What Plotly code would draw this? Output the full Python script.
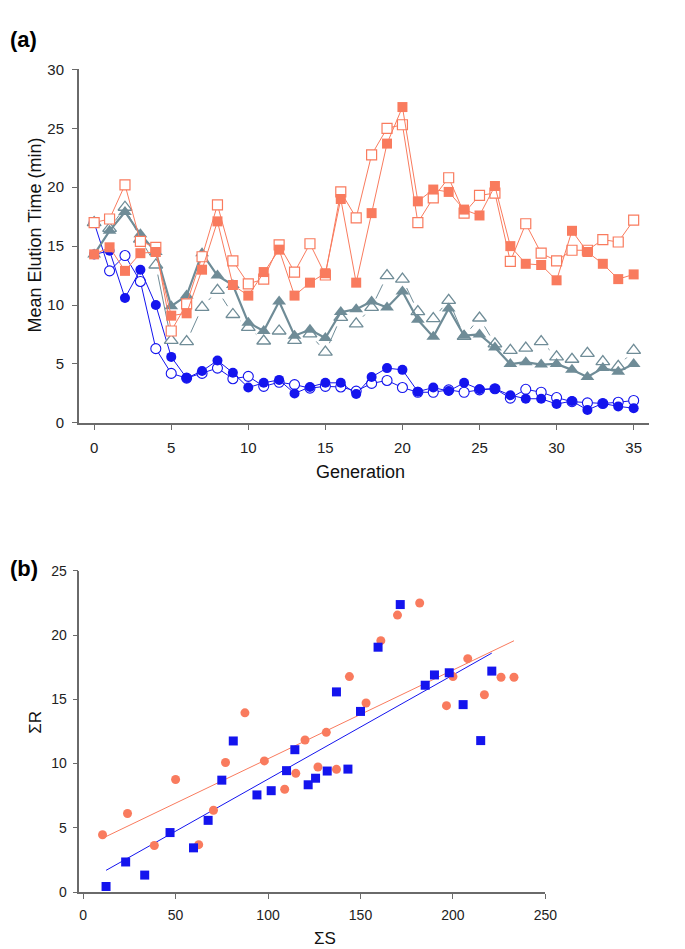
import math
import numpy as np
import plotly.graph_objects as go

W, H = 685, 949

# ---------------- Panel (a) data ----------------
generation = list(range(36))

filled_squares = [14.3, 14.9, 12.9, 14.4, 14.5, 9.1, 9.3, 13.0, 17.1, 11.7, 10.8, 12.8, 14.7, 10.8,
                  11.9, 12.7, 19.0, 11.9, 17.8, 23.7, 26.8, 18.8, 19.8, 19.6, 18.1, 17.6, 20.1, 15.0,
                  13.5, 13.4, 12.1, 16.3, 14.5, 13.5, 12.2, 12.6]
open_squares = [17.0, 17.3, 20.2, 15.4, 14.9, 7.8, 10.1, 14.1, 18.5, 13.75, 11.8, 12.2, 15.1, 12.8,
                15.2, 12.55, 19.6, 17.4, 22.75, 25.0, 25.3, 17.0, 19.1, 20.8, 17.8, 19.3, 19.5, 13.7,
                16.9, 14.4, 13.75, 14.65, 14.65, 15.55, 15.35, 17.2]
filled_triangles = [14.3, 16.3, 17.9, 16.0, 14.5, 9.9, 10.8, 14.4, 12.5, 11.7, 8.5, 7.8, 10.3, 7.4,
                    7.9, 7.2, 9.4, 9.65, 10.3, 9.8, 11.15, 8.75, 7.3, 9.7, 7.4, 7.5, 6.4, 5.0,
                    5.15, 4.95, 5.0, 4.5, 3.9, 4.65, 4.35, 5.0]
open_triangles = [17.0, 16.5, 18.3, 15.6, 13.4, 7.0, 6.9, 9.8, 11.25, 9.2, 8.1, 6.95, 7.8, 7.0,
                  7.55, 6.0, 8.95, 8.4, 9.8, 12.5, 12.2, 9.45, 8.85, 10.4, 7.35, 8.9, 6.7, 6.15,
                  6.35, 6.9, 5.6, 5.4, 5.9, 5.2, 4.8, 6.15]
filled_circles = [14.3, 14.6, 10.6, 13.0, 10.0, 5.6, 3.8, 4.4, 5.3, 4.25, 3.0, 3.4, 3.65, 2.5,
                  3.05, 3.4, 3.4, 2.45, 3.9, 4.65, 4.5, 2.65, 3.0, 2.7, 3.4, 2.85, 2.9, 2.35,
                  2.05, 2.05, 1.6, 1.85, 1.1, 1.65, 1.4, 1.25]
open_circles = [17.0, 12.9, 14.2, 12.0, 6.3, 4.2, 3.8, 4.2, 4.65, 3.75, 3.95, 3.1, 3.45, 3.25,
                2.95, 3.1, 3.05, 2.7, 3.35, 3.6, 3.0, 2.6, 2.6, 2.8, 2.6, 2.8, 2.9, 2.1,
                2.85, 2.6, 2.15, 1.8, 1.7, 1.65, 1.75, 1.9]

a_xticks = [0, 5, 10, 15, 20, 25, 30, 35]
a_yticks = [0, 5, 10, 15, 20, 25, 30]

# ---------------- Panel (b) data ----------------
orange_S = [10.5, 24, 38.5, 50, 62.5, 70.5, 77, 87.5, 98, 109, 115, 120, 127, 131.5, 137, 144,
            153, 161, 170, 182, 196.5, 200, 208, 217, 226, 233]
orange_R = [4.46, 6.11, 3.62, 8.76, 3.69, 6.37, 10.08, 13.95, 10.21, 8.0, 9.24, 11.84, 9.73, 12.43,
            9.55, 16.77, 14.72, 19.57, 21.56, 22.5, 14.51, 16.77, 18.17, 15.36, 16.72, 16.72]
blue_S = [12.4, 23, 33.3, 47, 59.7, 67.6, 75, 81.2, 94, 101.7, 110, 114.5, 121.7, 125.7, 132, 137,
          143.2, 150, 159.5, 171.5, 185, 190, 198, 205.5, 215, 221]
blue_R = [0.43, 2.34, 1.32, 4.63, 3.44, 5.58, 8.71, 11.76, 7.56, 7.89, 9.45, 11.08, 8.35, 8.86,
          9.42, 15.58, 9.57, 14.06, 19.06, 22.38, 16.1, 16.9, 17.07, 14.59, 11.79, 17.2]

b_xticks = [0, 50, 100, 150, 200, 250]
b_yticks = [0, 5, 10, 15, 20, 25]

# ---------------- styling ----------------
ORANGE = "#F97B5E"
GRAY = "#6F8C97"
BLUE = "#1414EE"
AXIS = "#6a6a6a"
FONT = "Liberation Sans, Arial, sans-serif"

a_xdom = [72 / W, 652.5 / W]
a_ydom = [1 - 413.3 / H, 1 - 53.3 / H]
a_xrange = [-1, 36]
a_yrange = [0, 30]

b_xdom = [72.7 / W, 547 / W]
b_ydom = [1 - 891 / H, 1 - 564 / H]
b_xrange = [-2, 250]
b_yrange = [0, 25]

fig = go.Figure()

# pixel scale for the gapped (type "b") line of the open triangles
sx = (a_xdom[1] - a_xdom[0]) * W / (a_xrange[1] - a_xrange[0])
sy = (a_ydom[1] - a_ydom[0]) * H / (a_yrange[1] - a_yrange[0])


def gapped(xs, ys, gap):
    X, Y = [], []
    for i in range(len(xs) - 1):
        dx, dy = xs[i + 1] - xs[i], ys[i + 1] - ys[i]
        L = math.hypot(dx * sx, dy * sy)
        if L <= 2 * gap:
            continue
        f = gap / L
        X += [xs[i] + dx * f, xs[i + 1] - dx * f, None]
        Y += [ys[i] + dy * f, ys[i + 1] - dy * f, None]
    return X, Y


# blue circles
fig.add_trace(go.Scatter(x=generation, y=open_circles, mode="lines+markers",
                         line=dict(color=BLUE, width=1),
                         marker=dict(symbol="circle", size=10, color="white",
                                     line=dict(color=BLUE, width=1.1)),
                         xaxis="x", yaxis="y", cliponaxis=False))
fig.add_trace(go.Scatter(x=generation, y=filled_circles, mode="lines+markers",
                         line=dict(color=BLUE, width=1),
                         marker=dict(symbol="circle", size=10, color=BLUE),
                         xaxis="x", yaxis="y", cliponaxis=False))

# gray triangles
gx, gy = gapped(generation, open_triangles, 10)
fig.add_trace(go.Scatter(x=gx, y=gy, mode="lines", line=dict(color=GRAY, width=1),
                         xaxis="x", yaxis="y", cliponaxis=False))
fig.add_trace(go.Scatter(x=generation, y=open_triangles, mode="markers",
                         marker=dict(symbol="triangle-up", size=12, color="white",
                                     line=dict(color=GRAY, width=1.3)),
                         xaxis="x", yaxis="y", cliponaxis=False))
fig.add_trace(go.Scatter(x=generation, y=filled_triangles, mode="lines+markers",
                         line=dict(color=GRAY, width=2.2),
                         marker=dict(symbol="triangle-up", size=12, color=GRAY),
                         xaxis="x", yaxis="y", cliponaxis=False))

# orange squares
fig.add_trace(go.Scatter(x=generation, y=open_squares, mode="lines+markers",
                         line=dict(color=ORANGE, width=1),
                         marker=dict(symbol="square", size=10, color="white",
                                     line=dict(color=ORANGE, width=1.2)),
                         xaxis="x", yaxis="y", cliponaxis=False))
fig.add_trace(go.Scatter(x=generation, y=filled_squares, mode="lines+markers",
                         line=dict(color=ORANGE, width=1),
                         marker=dict(symbol="square", size=10, color=ORANGE),
                         xaxis="x", yaxis="y", cliponaxis=False))

# ---------------- Panel (b) ----------------
for S, R, col in [(orange_S, orange_R, ORANGE), (blue_S, blue_R, BLUE)]:
    k, c = np.polyfit(S, R, 1)
    xs = np.array([min(S), max(S)])
    fig.add_trace(go.Scatter(x=xs, y=k * xs + c, mode="lines", line=dict(color=col, width=1),
                             xaxis="x2", yaxis="y2"))
for S, R, col, sym in [(orange_S, orange_R, ORANGE, "circle"), (blue_S, blue_R, BLUE, "square")]:
    fig.add_trace(go.Scatter(x=S, y=R, mode="markers",
                             marker=dict(symbol=sym, size=9, color=col),
                             xaxis="x2", yaxis="y2", cliponaxis=False))


def ax(size, standoff):
    return dict(showline=True, linecolor=AXIS, linewidth=1.5, ticks="outside", ticklen=5,
                tickcolor=AXIS, tickwidth=1.2, showgrid=False, zeroline=False,
                ticklabelstandoff=standoff,
                tickfont=dict(family=FONT, size=size, color="#222"))


fig.update_layout(
    width=W, height=H, showlegend=False,
    paper_bgcolor="white", plot_bgcolor="white",
    margin=dict(l=0, r=0, t=0, b=0),
    xaxis=dict(domain=a_xdom, range=a_xrange, tickvals=a_xticks, anchor="y", **ax(15, 5)),
    yaxis=dict(domain=a_ydom, range=a_yrange, tickvals=a_yticks, anchor="x", **ax(15, 5)),
    xaxis2=dict(domain=b_xdom, range=b_xrange, tickvals=b_xticks, anchor="y2", **ax(14, 4)),
    yaxis2=dict(domain=b_ydom, range=b_yrange, tickvals=b_yticks, anchor="x2", **ax(14, 3)),
    annotations=[
        dict(text="<b>(a)</b>", x=0, y=1 - 23 / H, xref="paper", yref="paper", xanchor="left",
             yanchor="middle", showarrow=False, font=dict(family=FONT, size=22, color="black")),
        dict(text="<b>(b)</b>", x=0, y=1 - 562 / H, xref="paper", yref="paper", xanchor="left",
             yanchor="middle", showarrow=False, font=dict(family=FONT, size=22, color="black")),
        dict(text="Mean Elution Time (min)", x=28 / W, y=1 - 222 / H, xref="paper", yref="paper",
             textangle=-90, showarrow=False, xanchor="center", yanchor="middle",
             font=dict(family=FONT, size=18, color="#111")),
        dict(text="Generation", x=359 / W, y=1 - 463 / H, xref="paper", yref="paper",
             showarrow=False, xanchor="center", yanchor="middle",
             font=dict(family=FONT, size=18, color="#111")),
        dict(text="ΣR", x=28 / W, y=1 - 718 / H, xref="paper", yref="paper", textangle=-90,
             showarrow=False, xanchor="center", yanchor="middle",
             font=dict(family=FONT, size=17, color="#111")),
        dict(text="ΣS", x=323 / W, y=1 - 938 / H, xref="paper", yref="paper",
             showarrow=False, xanchor="center", yanchor="middle",
             font=dict(family=FONT, size=17, color="#111")),
    ],
)

fig.write_html("out.html")
